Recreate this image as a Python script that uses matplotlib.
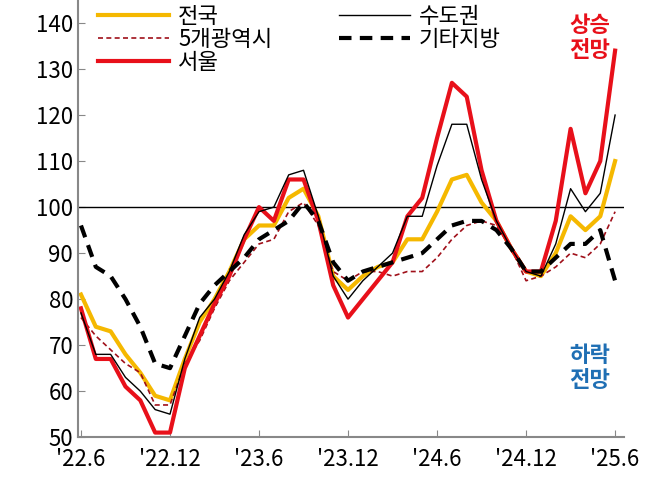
import matplotlib
matplotlib.use('Agg')
import matplotlib.pyplot as plt

plt.rcParams['font.family'] = 'Noto Sans CJK KR'

tick_labels = ["'22.6", "'22.12", "'23.6", "'23.12", "'24.6", "'24.12", "'25.6"]

seoul = [78, 67, 67, 61, 58, 51, 51, 65, 72, 79, 85, 93, 100, 97, 106, 106, 97, 83, 76, 80,
         84, 88, 98, 102, 115, 127, 124, 108, 97, 91, 86, 86, 97, 117, 103, 110, 134]
national = [81, 74, 73, 68, 64, 59, 58, 67, 75, 80, 86, 93, 96, 96, 102, 104, 98, 85, 82, 85,
            87, 88, 93, 93, 99, 106, 107, 101, 97, 91, 86, 85, 90, 98, 95, 98, 110]
capital = [77, 68, 68, 63, 60, 56, 55, 67, 76, 80, 86, 94, 99, 100, 107, 108, 98, 85, 80, 84,
           87, 90, 98, 98, 109, 118, 118, 106, 97, 91, 86, 85, 92, 104, 99, 103, 120]
metro5 = [76, 72, 69, 66, 64, 57, 57, 66, 71, 78, 84, 88, 92, 93, 99, 101, 96, 86, 84, 86,
          86, 85, 86, 86, 89, 93, 96, 97, 96, 91, 84, 85, 87, 90, 89, 92, 99]
others = [96, 87, 85, 80, 74, 66, 65, 72, 79, 83, 86, 89, 93, 95, 97, 101, 97, 88, 84, 86,
          87, 88, 89, 90, 93, 96, 97, 97, 95, 91, 86, 86, 89, 92, 92, 95, 84]

x = list(range(len(seoul)))

fig = plt.figure(figsize=(6.5, 4.94), dpi=100)
ax = fig.add_axes([0.12, 0.115, 0.84, 0.885])

ax.axhline(100, color='black', lw=1)
ax.plot(x, national, color='#F5B800', lw=3, label='전국')
ax.plot(x, metro5, color='#A0101A', lw=1.2, ls=(0, (3, 2)), label='5개광역시')
ax.plot(x, seoul, color='#E8101A', lw=3, label='서울')
ax.plot(x, capital, color='black', lw=1, label='수도권')
ax.plot(x, others, color='black', lw=3, ls=(0, (3, 2)), label='기타지방')

ax.legend(ncol=2, frameon=False, loc='upper left', bbox_to_anchor=(0.0, 1.035),
          prop={'size': 16, 'weight': 'medium'}, handlelength=3.2,
          columnspacing=3.0, labelspacing=0.0, handletextpad=0.4)

ax.text(34.3, 142, '상승\n전망', color='#E8101A', fontsize=16, fontweight='bold',
        ha='center', va='top', linespacing=1.1)
ax.text(34.3, 65, '하락\n전망', color='#1F6FB4', fontsize=16, fontweight='bold',
        ha='center', va='center', linespacing=1.1)

ax.set_xlim(-0.2, 36.6)
ax.set_ylim(50, 145)
ax.set_yticks(range(50, 141, 10))
ax.set_xticks(range(0, 37, 6))
ax.set_xticklabels(tick_labels)
ax.tick_params(axis='both', direction='in', labelsize=16, color='#888888', length=5)
ax.tick_params(axis='x', pad=8)
for s in ['top', 'right']:
    ax.spines[s].set_visible(False)
for s in ['left', 'bottom']:
    ax.spines[s].set_color('#888888')
    ax.spines[s].set_linewidth(1.5)

fig.savefig('out.png', dpi=100)
